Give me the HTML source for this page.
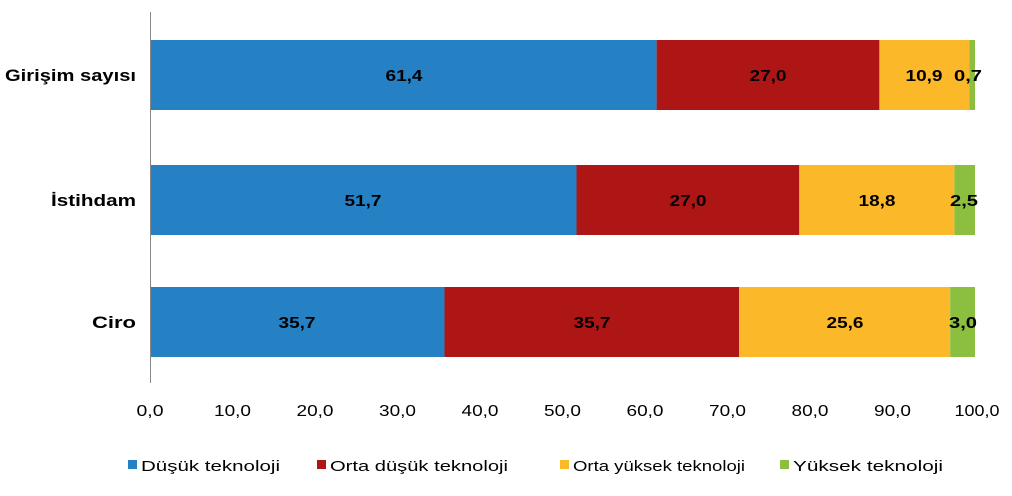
<!DOCTYPE html>
<html><head><meta charset="utf-8"><style>
body{margin:0;background:#fff;}
svg text{font-family:"Liberation Sans",sans-serif;}
</style></head><body>
<svg width="1012" height="491" xmlns="http://www.w3.org/2000/svg">
<g font-weight="bold" font-size="16" fill="#000">
<rect x="150" y="40" width="506.6" height="70" fill="#2581c4"/>
<rect x="656.6" y="40" width="222.8" height="70" fill="#ae1616"/>
<rect x="879.4" y="40" width="89.9" height="70" fill="#fbb829"/>
<rect x="969.3" y="40" width="5.7" height="70" fill="#8cbf3f"/>
<rect x="150" y="165" width="426.5" height="70" fill="#2581c4"/>
<rect x="576.5" y="165" width="222.8" height="70" fill="#ae1616"/>
<rect x="799.3" y="165" width="155.1" height="70" fill="#fbb829"/>
<rect x="954.4" y="165" width="20.6" height="70" fill="#8cbf3f"/>
<rect x="150" y="287" width="294.5" height="70" fill="#2581c4"/>
<rect x="444.5" y="287" width="294.5" height="70" fill="#ae1616"/>
<rect x="739" y="287" width="211.2" height="70" fill="#fbb829"/>
<rect x="950.2" y="287" width="24.8" height="70" fill="#8cbf3f"/>
<g text-anchor="middle" lengthAdjust="spacingAndGlyphs">
<text x="404" y="81" textLength="37" lengthAdjust="spacingAndGlyphs">61,4</text><text x="768" y="81" textLength="37" lengthAdjust="spacingAndGlyphs">27,0</text><text x="924" y="81" textLength="37" lengthAdjust="spacingAndGlyphs">10,9</text><text x="968" y="81" textLength="28" lengthAdjust="spacingAndGlyphs">0,7</text>
<text x="363" y="206" textLength="37" lengthAdjust="spacingAndGlyphs">51,7</text><text x="688" y="206" textLength="37" lengthAdjust="spacingAndGlyphs">27,0</text><text x="877" y="206" textLength="37" lengthAdjust="spacingAndGlyphs">18,8</text><text x="964" y="206" textLength="28" lengthAdjust="spacingAndGlyphs">2,5</text>
<text x="297" y="328" textLength="37" lengthAdjust="spacingAndGlyphs">35,7</text><text x="592" y="328" textLength="37" lengthAdjust="spacingAndGlyphs">35,7</text><text x="845" y="328" textLength="37" lengthAdjust="spacingAndGlyphs">25,6</text><text x="963" y="328" textLength="28" lengthAdjust="spacingAndGlyphs">3,0</text>
</g>
<g text-anchor="end" font-size="17">
<text x="136" y="81" textLength="131" lengthAdjust="spacingAndGlyphs">Girişim sayısı</text>
<text x="136" y="206" textLength="85" lengthAdjust="spacingAndGlyphs">İstihdam</text>
<text x="136" y="328" textLength="44" lengthAdjust="spacingAndGlyphs">Ciro</text>
</g>
</g>
<line x1="150.5" y1="12" x2="150.5" y2="383" stroke="#888" stroke-width="1"/>
<g font-size="16" fill="#000" text-anchor="middle">
<text x="150" y="416" textLength="27" lengthAdjust="spacingAndGlyphs">0,0</text>
<text x="232.5" y="416" textLength="37" lengthAdjust="spacingAndGlyphs">10,0</text>
<text x="315" y="416" textLength="37" lengthAdjust="spacingAndGlyphs">20,0</text>
<text x="397.5" y="416" textLength="37" lengthAdjust="spacingAndGlyphs">30,0</text>
<text x="480" y="416" textLength="37" lengthAdjust="spacingAndGlyphs">40,0</text>
<text x="562.5" y="416" textLength="37" lengthAdjust="spacingAndGlyphs">50,0</text>
<text x="645" y="416" textLength="37" lengthAdjust="spacingAndGlyphs">60,0</text>
<text x="727.5" y="416" textLength="37" lengthAdjust="spacingAndGlyphs">70,0</text>
<text x="810" y="416" textLength="37" lengthAdjust="spacingAndGlyphs">80,0</text>
<text x="892.5" y="416" textLength="37" lengthAdjust="spacingAndGlyphs">90,0</text>
<text x="977" y="416" textLength="45" lengthAdjust="spacingAndGlyphs">100,0</text>
</g>
<g font-size="15" fill="#000">
<rect x="128" y="460" width="9" height="9" fill="#2581c4"/><text x="141" y="471" textLength="139" lengthAdjust="spacingAndGlyphs">Düşük teknoloji</text>
<rect x="317" y="460" width="9" height="9" fill="#ae1616"/><text x="330" y="471" textLength="178" lengthAdjust="spacingAndGlyphs">Orta düşük teknoloji</text>
<rect x="560" y="460" width="9" height="9" fill="#fbb829"/><text x="573" y="471" textLength="172" lengthAdjust="spacingAndGlyphs">Orta yüksek teknoloji</text>
<rect x="780" y="460" width="9" height="9" fill="#8cbf3f"/><text x="793" y="471" textLength="150" lengthAdjust="spacingAndGlyphs">Yüksek teknoloji</text>
</g>
</svg>
</body></html>
